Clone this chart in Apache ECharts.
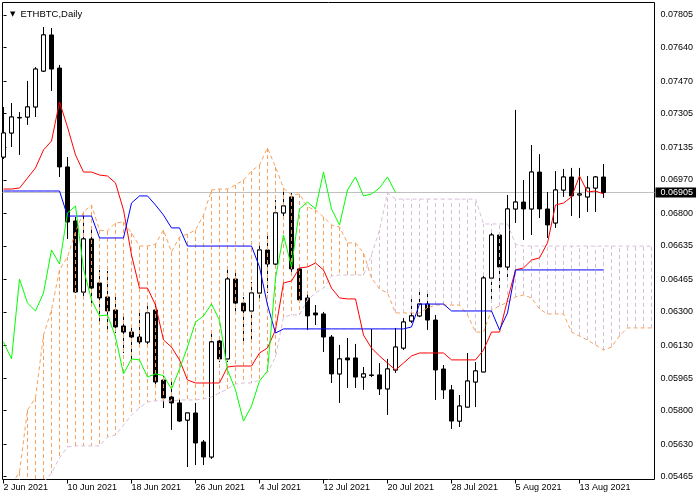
<!DOCTYPE html>
<html><head><meta charset="utf-8">
<script src="https://cdn.jsdelivr.net/npm/echarts@6/dist/echarts.min.js"></script>
<style>html,body{margin:0;padding:0;background:#fff}#c{width:700px;height:500px}</style>
</head><body><div id="c"></div>
<script>
// ETHBTC daily, bars from 2 Jun 2021 (index 0) to 16 Aug 2021 (index 75)
const open = [0.07085,0.07207,0.07286,0.07288,0.07339,0.07521,0.07704,0.07536,0.07035,0.06761,
0.06401,0.06670,0.06447,0.06376,0.06310,0.06229,0.06198,0.06173,0.06148,0.06310,
0.05955,0.05869,0.05839,0.05752,0.05788,0.05641,0.05565,0.06153,0.06062,0.06467,
0.06345,0.06305,0.06396,0.06614,0.06543,0.06802,0.06883,0.06518,0.06371,0.06295,
0.06290,0.06173,0.05986,0.06067,0.06067,0.05970,0.05981,0.05981,0.05910,0.06006,
0.06117,0.06254,0.06280,0.06340,0.06259,0.06011,0.05905,0.05747,0.05818,0.05945,
0.05996,0.06472,0.06690,0.06528,0.06822,0.06857,0.06822,0.07009,0.06822,0.06751,
0.06918,0.06984,0.06893,0.06883,0.06928,0.06984];
const close = [0.07207,0.07288,0.07283,0.07339,0.07531,0.07704,0.07531,0.07035,0.06756,0.06401,
0.06670,0.06421,0.06371,0.06305,0.06224,0.06198,0.06173,0.06148,0.06295,0.05945,
0.05864,0.05839,0.05747,0.05788,0.05636,0.05565,0.06148,0.06062,0.06467,0.06345,
0.06305,0.06396,0.06614,0.06543,0.06802,0.06837,0.06518,0.06361,0.06280,0.06285,
0.06173,0.05986,0.06062,0.06057,0.05970,0.05986,0.05978,0.05910,0.06011,0.06122,
0.06249,0.06280,0.06340,0.06259,0.06006,0.05905,0.05747,0.05823,0.05950,0.06001,
0.06472,0.06690,0.06528,0.06822,0.06857,0.06822,0.07009,0.06822,0.06741,0.06918,
0.06984,0.06888,0.06898,0.06928,0.06984,0.06905];
const low = [0.07075,0.07136,0.07096,0.07248,0.07288,0.07516,0.07420,0.06984,0.06670,0.06396,
0.06381,0.06345,0.06234,0.06209,0.06193,0.06092,0.06041,0.06133,0.06133,0.05930,
0.05813,0.05702,0.05742,0.05514,0.05524,0.05524,0.05555,0.06046,0.06046,0.06295,
0.06143,0.06158,0.06361,0.06396,0.06533,0.06766,0.06503,0.06345,0.06209,0.06234,
0.06097,0.05940,0.05839,0.05915,0.05915,0.05905,0.05970,0.05879,0.05778,0.05991,
0.06107,0.06244,0.06274,0.06209,0.05854,0.05859,0.05707,0.05717,0.05818,0.05818,
0.05996,0.06361,0.06401,0.06477,0.06751,0.06665,0.06690,0.06776,0.06675,0.06726,
0.06883,0.06786,0.06776,0.06807,0.06807,0.06878];
const high = [0.07339,0.07359,0.07313,0.07471,0.07541,0.07744,0.07739,0.07552,0.07085,0.06781,
0.06807,0.06715,0.06513,0.06508,0.06376,0.06274,0.06234,0.06300,0.06345,0.06350,
0.05975,0.05955,0.05859,0.05788,0.05839,0.05651,0.06193,0.06173,0.06513,0.06513,
0.06376,0.06452,0.06655,0.06690,0.06867,0.06923,0.06903,0.06538,0.06396,0.06335,
0.06300,0.06183,0.06133,0.06168,0.06138,0.06021,0.06214,0.06041,0.06062,0.06219,
0.06269,0.06381,0.06401,0.06391,0.06285,0.06031,0.05930,0.05879,0.06092,0.06046,
0.06497,0.06705,0.06705,0.06893,0.07324,0.06969,0.07146,0.07100,0.06908,0.07014,
0.07025,0.07030,0.07030,0.06989,0.06989,0.07050];
// Ichimoku lines
const tenkan = [0.06923,0.06923,0.06928,0.06979,0.07030,0.07121,0.07166,0.07364,0.07237,0.07096,
0.07009,0.07009,0.06994,0.06989,0.06954,0.06817,0.06589,0.06421,0.06421,0.06335,
0.06158,0.06122,0.06057,0.05955,0.05940,0.05940,0.05940,0.05940,0.06021,0.06026,
0.06026,0.06026,0.06092,0.06117,0.06209,0.06447,0.06457,0.06523,0.06528,0.06548,
0.06513,0.06421,0.06371,0.06366,0.06366,0.06183,0.06117,0.06077,0.06041,0.06006,
0.06041,0.06077,0.06092,0.06092,0.06092,0.06092,0.06057,0.06057,0.06057,0.06057,
0.06107,0.06198,0.06198,0.06361,0.06513,0.06523,0.06563,0.06574,0.06650,0.06842,
0.06852,0.06883,0.06989,0.06908,0.06913,0.06898];
const kijun = [0.06913,0.06913,0.06913,0.06913,0.06913,0.06913,0.06913,0.06913,0.06786,0.06786,
0.06786,0.06786,0.06675,0.06675,0.06675,0.06675,0.06852,0.06888,0.06888,0.06842,
0.06791,0.06726,0.06726,0.06634,0.06634,0.06634,0.06634,0.06634,0.06634,0.06634,
0.06634,0.06634,0.06528,0.06335,0.06193,0.06214,0.06214,0.06214,0.06214,0.06214,
0.06214,0.06214,0.06214,0.06214,0.06214,0.06214,0.06214,0.06214,0.06214,0.06214,
0.06214,0.06224,0.06340,0.06340,0.06340,0.06340,0.06305,0.06305,0.06305,0.06305,
0.06305,0.06305,0.06209,0.06295,0.06513,0.06513,0.06513,0.06513,0.06513,0.06513,
0.06513,0.06513,0.06513,0.06513,0.06513,0.06513];
const chikou = [0.06148,0.06062,0.06467,0.06345,0.06305,0.06396,0.06614,0.06543,0.06802,0.06837,
0.06518,0.06361,0.06280,0.06285,0.06173,0.05986,0.06062,0.06057,0.05970,0.05986,
0.05978,0.05910,0.06011,0.06122,0.06249,0.06280,0.06340,0.06259,0.06006,0.05905,
0.05747,0.05823,0.05950,0.06001,0.06472,0.06690,0.06528,0.06822,0.06857,0.06822,
0.07009,0.06822,0.06741,0.06918,0.06984,0.06888,0.06898,0.06928,0.06984,0.06905];
const spanA = [0.05372,0.05423,0.05489,0.05803,0.05864,0.06183,0.06310,0.06513,0.06579,0.06705,
0.06807,0.06842,0.06715,0.06710,0.06751,0.06756,0.06700,0.06634,0.06634,0.06644,
0.06715,0.06604,0.06680,0.06695,0.06715,0.06791,0.06918,0.06923,0.06923,0.06943,
0.06969,0.07014,0.07045,0.07131,0.07035,0.06928,0.06893,0.06898,0.06832,0.06817,
0.06781,0.06741,0.06731,0.06650,0.06650,0.06599,0.06472,0.06416,0.06396,0.06295,
0.06295,0.06295,0.06295,0.06320,0.06335,0.06335,0.06335,0.06335,0.06285,0.06198,
0.06198,0.06310,0.06330,0.06350,0.06376,0.06386,0.06371,0.06315,0.06290,0.06290,
0.06290,0.06198,0.06178,0.06158,0.06133,0.06107,0.06122,0.06178,0.06219,0.06219,
0.06219,0.06219];
const spanB = [0.05246,0.05271,0.05322,0.05357,0.05398,0.05438,0.05484,0.05560,0.05616,0.05621,
0.05621,0.05621,0.05621,0.05666,0.05676,0.05727,0.05778,0.05813,0.05844,0.05849,
0.05849,0.05849,0.05854,0.05854,0.05854,0.05859,0.05869,0.05889,0.05910,0.05935,
0.05940,0.05940,0.05955,0.05991,0.06072,0.06274,0.06285,0.06285,0.06361,0.06396,
0.06421,0.06482,0.06487,0.06487,0.06487,0.06487,0.06589,0.06715,0.06903,0.06872,
0.06872,0.06872,0.06872,0.06872,0.06872,0.06872,0.06872,0.06872,0.06872,0.06872,
0.06746,0.06746,0.06746,0.06746,0.06644,0.06634,0.06634,0.06634,0.06634,0.06634,
0.06634,0.06634,0.06634,0.06634,0.06634,0.06634,0.06634,0.06634,0.06634,0.06634,
0.06634,0.06634];
const bid = 0.06905;
const priceTicks = [0.05465,0.05630,0.05800,0.05965,0.06130,0.06300,0.06465,0.06635,0.06800,0.06970,0.07135,0.07305,0.07470,0.07640,0.07805];
const dateTickBars = [0,8,16,24,32,40,48,56,64,72];
const dateTickLabels = ['2 Jun 2021','10 Jun 2021','18 Jun 2021','26 Jun 2021','4 Jul 2021','12 Jul 2021','20 Jul 2021','28 Jul 2021','5 Aug 2021','13 Aug 2021'];

const SANDY = '#f4a460', THISTLE = '#d8bfd8';
const FONT = 'Liberation Sans';
const pairs = a => a.map((v, i) => [i, v]);
const candles = open.map((o, i) => [i, o, close[i], low[i], high[i]]);
const cloud = spanA.map((a, i) => [i, a, spanB[i]]);

const chart = echarts.init(document.getElementById('c'), null, {renderer: 'canvas'});
chart.setOption({
  animation: false,
  backgroundColor: '#fff',
  title: {
    text: '{t|▼}ETHBTC,Daily', left: 5, top: 4,
    textStyle: {fontSize: 9.5, fontWeight: 'normal', color: '#000', fontFamily: FONT,
      rich: {t: {fontSize: 7, fontFamily: 'DejaVu Sans', color: '#000', padding: [0, 5, 0, 0]}}}
  },
  grid: {left: 2.5, top: 2.5, width: 652, height: 477, show: true, borderColor: '#000', borderWidth: 1, backgroundColor: '#fff', containLabel: false},
  xAxis: {
    type: 'value', min: -0.125, max: 81.375,
    axisLine: {show: false}, splitLine: {show: false},
    axisTick: {show: true, length: 4, customValues: dateTickBars, lineStyle: {color: '#000'}},
    axisLabel: {show: true, customValues: dateTickBars, align: 'left', margin: 4, color: '#000', fontFamily: FONT, fontSize: 9,
      formatter: v => dateTickLabels[dateTickBars.indexOf(Math.round(v))]}
  },
  yAxis: {
    type: 'value', position: 'right', min: 0.0545084, max: 0.0786835, scale: true,
    axisLine: {show: false}, splitLine: {show: false},
    axisTick: {show: true, length: 3, customValues: priceTicks, lineStyle: {color: '#000'}},
    axisLabel: {show: true, customValues: priceTicks, margin: 6, color: '#000', fontFamily: FONT, fontSize: 9,
      formatter: v => v.toFixed(5)}
  },
  series: [
    {
      type: 'line', data: pairs(kijun), symbol: 'none', z: 1, silent: true,
      lineStyle: {opacity: 0},
      markLine: {
        silent: true, symbol: 'none', animation: false, z: 1, precision: 5,
        data: [{yAxis: bid}],
        lineStyle: {color: '#c0c0c0', type: 'solid', width: 1, opacity: 1},
        label: {show: true, position: 'end', distance: 1, formatter: () => bid.toFixed(5),
          backgroundColor: '#000', color: '#fff', fontFamily: FONT, fontSize: 9, padding: [1, 3, 0, 5]}
      }
    },
    {
      type: 'candlestick', data: candles, encode: {x: 0, y: [1, 2, 3, 4]}, barWidth: 4, z: 2, silent: true,
      itemStyle: {color: '#fff', color0: '#000', borderColor: '#000', borderColor0: '#000', borderColorDoji: '#000', borderWidth: 1}
    },
    {
      type: 'custom', data: cloud, encode: {x: 0, y: [1, 2]}, clip: true, z: 3, silent: true,
      renderItem: (params, api) => {
        const k = api.value(0), a = api.value(1), b = api.value(2);
        const p = api.coord([k, a]), q = api.coord([k, b]);
        return {type: 'line', shape: {x1: p[0], y1: p[1], x2: q[0], y2: q[1]},
          style: {stroke: a > b ? SANDY : THISTLE, lineWidth: 1, lineDash: [4, 3]}};
      }
    },
    {
      type: 'custom', data: candles, encode: {x: 0, y: [1, 2, 3, 4]}, clip: true, z: 4, silent: true,
      renderItem: (params, api) => {
        const k = api.value(0), o = api.value(1), c = api.value(2);
        if (!(c > o)) return null;
        const p = api.coord([k, o]), q = api.coord([k, c]);
        return {type: 'rect', shape: {x: p[0] - 2, y: q[1], width: 4, height: p[1] - q[1]},
          style: {fill: '#fff', stroke: '#000', lineWidth: 1}};
      }
    },
    {type: 'line', data: pairs(spanA), symbol: 'none', z: 5, silent: true, lineStyle: {color: SANDY, width: 1, type: [4, 3]}},
    {type: 'line', data: pairs(spanB), symbol: 'none', z: 5, silent: true, lineStyle: {color: THISTLE, width: 1, type: [4, 3]}},
    {type: 'line', data: pairs(tenkan), symbol: 'none', z: 6, silent: true, lineStyle: {color: '#ff0000', width: 1}},
    {type: 'line', data: pairs(kijun), symbol: 'none', z: 6, silent: true, lineStyle: {color: '#0000ff', width: 1}},
    {type: 'line', data: pairs(chikou), symbol: 'none', z: 6, silent: true, lineStyle: {color: '#00ff00', width: 1}}
  ]
});
</script></body></html>
